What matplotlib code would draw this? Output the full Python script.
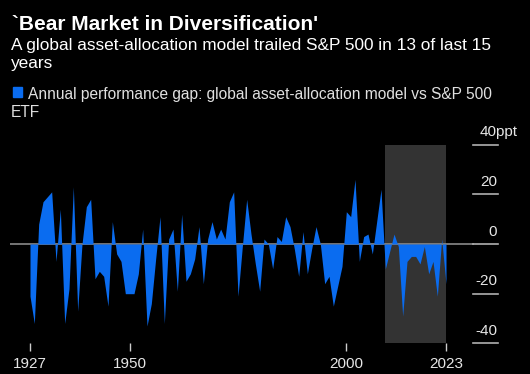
import numpy as np
import matplotlib.pyplot as plt

# Annual performance gap (ppt), global asset-allocation model vs S&P 500 ETF
years = list(range(1927, 2024))
gap = [
    -21, -32, 8, 17, 19, 21, -7, 14, -32, -18,      # 1927-1936
    23, -27, 0, 15, 18, -14, -11, -13, -25, 9,      # 1937-1946
    -4, -7, -20, -20, -20, -12, 6, -33, -24, -6,    # 1947-1956
    11, -32, 2, 6, -19, 12, -15, -12, -6, 7,        # 1957-1966
    -16, 2, 9, 2, 6, 2, 17, 21, -21, -1,            # 1967-1976
    18, 4, -8, -19, 2, 0, -10, 3, 1, 11,            # 1977-1986
    7, -2, -13, 5, -12, -2, 7, 0, -16, -13,         # 1987-1996
    -25, -17, -9, 13, 11, 26, -7, 3, 4, -4,         # 1997-2006
    9, 22, -10, -3, 4, -1, -29, -7, -5, -5,         # 2007-2016
    -8, -1, -12, -7, -21, 2, -16,                   # 2017-2023
]
x_ticks = [1927, 1950, 2000, 2023]
y_ticks = [40, 20, 0, -20, -40]
y_labels = ['40ppt', '20', '0', '-20', '-40']
shade_start, shade_end = 2009, 2023

W, H = 530, 374
plt.rcParams['font.family'] = ['Liberation Sans', 'DejaVu Sans']

fig = plt.figure(figsize=(W / 100, H / 100), dpi=100, facecolor='black')


def px(x, y):
    return x / W, 1 - y / H


# axes spans pixel x 10..498, y 130..343
ax = fig.add_axes([10 / W, 1 - 343 / H, 488 / W, 213 / H], facecolor='black')
per_year = 416 / 96
ax.set_xlim(1927 - 20 / per_year, 1927 + 468 / per_year)
ppt = 49.7 / 20
ax.set_ylim(-(343 - 244) / ppt, (244 - 130) / ppt)
for s in ax.spines.values():
    s.set_visible(False)

blue = '#0a6cf0'
ax.add_patch(plt.Rectangle((shade_start, -40), shade_end - shade_start, 80,
                           color='#333333', lw=0, zorder=1, clip_on=False))
x_end_zero = 1927 + 443 / per_year
ax.plot([ax.get_xlim()[0], x_end_zero], [0, 0], color='#8a8a8a', lw=1.2, zorder=2)
ax.fill_between(years, gap, 0, color=blue, lw=0, zorder=3)

# right-side tick segments and labels
for v, lab in zip(y_ticks, y_labels):
    ax.plot([x_end_zero, ax.get_xlim()[1]], [v, v], color='#b0b0b0', lw=1.2,
            zorder=2, clip_on=False)
    if lab.endswith('ppt'):
        ax.text(1927 + 450 / per_year, v + 2.2, lab, color='#e6e6e6', fontsize=11,
                ha='left', va='bottom')
    else:
        ax.text(ax.get_xlim()[1] - 1 / per_year, v + 2.2, lab, color='#e6e6e6',
                fontsize=11, ha='right', va='bottom')

ax.set_yticks([])
ax.set_xticks(x_ticks)
ax.set_xticklabels([str(t) for t in x_ticks], color='#e6e6e6', fontsize=11)
ax.tick_params(axis='x', colors='#cccccc', length=6, width=1, pad=4,
               labelcolor='#e6e6e6', direction='out')

# header texts
fig.text(*px(12, 29.5), "`Bear Market in Diversification'", color='white',
         fontsize=15, fontweight='bold', va='baseline')
fig.text(*px(11, 50), 'A global asset-allocation model trailed S&P 500 in 13 of last 15',
         color='white', fontsize=12.4, va='baseline')
fig.text(*px(11, 68), 'years', color='white', fontsize=12.4, va='baseline')
fig.patches.append(plt.Rectangle(px(12.5, 96.5), 9.5 / W, 10 / H, color=blue,
                                 transform=fig.transFigure, figure=fig))
fig.text(*px(28, 98.5), 'Annual performance gap: global asset-allocation model vs S&P 500',
         color='#e0e0e0', fontsize=11.2, va='baseline')
fig.text(*px(11, 117), 'ETF', color='#e0e0e0', fontsize=11.2, va='baseline')

fig.savefig('out.png', dpi=100, facecolor='black')
